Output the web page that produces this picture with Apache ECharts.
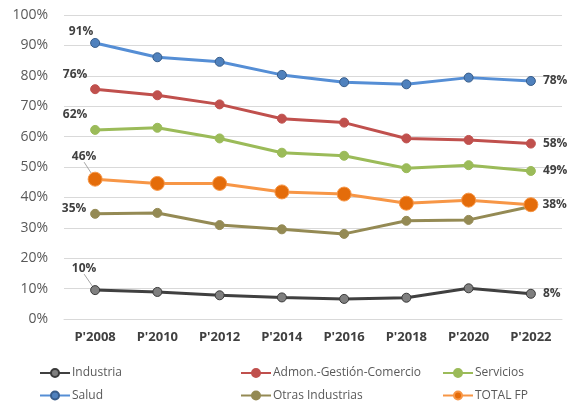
<!DOCTYPE html>
<html>
<head>
<meta charset="utf-8">
<script src="https://cdn.jsdelivr.net/npm/echarts@6/dist/echarts.min.js"></script>
<style>
  html, body { margin: 0; padding: 0; background: #fff; }
  #chart { width: 567px; height: 405px; }
</style>
</head>
<body>
<div id="chart"></div>
<script>
const categories = ["P'2008", "P'2010", "P'2012", "P'2014", "P'2016", "P'2018", "P'2020", "P'2022"];
const industria = [9.5, 8.9, 7.8, 7.1, 6.6, 7.0, 10.1, 8.3];
const admon = [75.6, 73.6, 70.6, 65.9, 64.6, 59.4, 58.9, 57.7];
const servicios = [62.2, 62.9, 59.4, 54.7, 53.7, 49.6, 50.6, 48.7];
const salud = [90.8, 86.1, 84.6, 80.3, 77.9, 77.2, 79.4, 78.3];
const otras = [34.6, 34.9, 30.9, 29.5, 28.0, 32.3, 32.6, 37.0];
const totalFp = [46.0, 44.6, 44.6, 41.8, 41.1, 38.1, 39.1, 37.6];

const font = 'Open Sans';
const labelText = { color: '#404040', fontWeight: 'bold', fontSize: 12, fontFamily: font };

// estilo de cada serie
const seriesDefs = [
  { name: 'Industria', data: industria, line: '#404040', fill: '#7f7f7f', border: '#3a3a3a', size: 9, first: [-11, -22], leader: true, dist: 7 },
  { name: 'Admon.-Gestión-Comercio', data: admon, line: '#c0504d', fill: '#c0504d', border: '#c0504d', size: 9, first: [-20, -15], dist: 7 },
  { name: 'Servicios', data: servicios, line: '#9bbb59', fill: '#9bbb59', border: '#9bbb59', size: 9, first: [-20, -15], dist: 7 },
  { name: 'Salud', data: salud, line: '#558ed5', fill: '#4f81bd', border: '#385d8a', size: 9, first: [-14, -11], dist: 7 },
  { name: 'Otras Industrias', data: otras, line: '#948a54', fill: '#948a54', border: '#948a54', size: 9, first: [-21, -5], dist: 0 },
  { name: 'TOTAL FP', data: totalFp, line: '#f79646', fill: '#e46c0a', border: '#f79646', size: 14, first: [-11, -23], leader: true, dist: 4 }
];

function pct(p) {
  return Math.round(p.value) + '%';
}

const series = seriesDefs.map(function (d) {
  const n = d.data.length;
  return {
    name: d.name,
    type: 'line',
    animation: false,
    symbol: 'circle',
    symbolSize: d.size,
    color: d.fill,
    lineStyle: { color: d.line, width: 3 },
    itemStyle: { color: d.fill, borderColor: d.border, borderWidth: 1 },
    label: { show: false },
    labelLine: {
      show: !!d.leader,
      lineStyle: { color: '#a6a6a6', width: 1 }
    },
    labelLayout: function (params) {
      if (params.dataIndex === 0) {
        return { dx: d.first[0], dy: d.first[1] };
      }
    },
    data: d.data.map(function (v, i) {
      if (i === 0) {
        return { value: v, label: Object.assign({ show: true, position: 'inside', formatter: pct }, labelText) };
      }
      if (i === n - 1 && d.dist) {
        return { value: v, label: Object.assign({ show: true, position: 'right', distance: d.dist, formatter: pct }, labelText), labelLine: { show: false } };
      }
      return v;
    })
  };
});

function legendCol(left, names) {
  return {
    orient: 'vertical',
    left: left,
    top: 367,
    itemWidth: 30,
    itemHeight: 10,
    itemGap: 10.5,
    padding: 0,
    textStyle: { color: '#595959', fontSize: 12, fontFamily: font, padding: [0, 0, 0, -3] },
    data: names
  };
}

const chart = echarts.init(document.getElementById('chart'), null, { renderer: 'canvas' });
chart.setOption({
  backgroundColor: '#ffffff',
  animation: false,
  grid: { left: 64, right: 5, top: 15, bottom: 86, containLabel: false },
  legend: [
    legendCol(39, ['Industria', 'Salud']),
    legendCol(240, ['Admon.-Gestión-Comercio', 'Otras Industrias']),
    legendCol(442, ['Servicios', 'TOTAL FP'])
  ],
  xAxis: {
    type: 'category',
    boundaryGap: true,
    data: categories,
    axisLine: { show: true, lineStyle: { color: '#d9d9d9' } },
    axisTick: { show: false },
    axisLabel: { color: '#404040', fontWeight: 'bold', fontSize: 13, fontFamily: font, margin: 12 }
  },
  yAxis: {
    type: 'value',
    min: 0,
    max: 100,
    interval: 10,
    axisLine: { show: false },
    axisTick: { show: false },
    splitLine: { lineStyle: { color: '#d9d9d9', width: 1 } },
    axisLabel: { color: '#595959', fontSize: 14, fontFamily: font, margin: 16, formatter: '{value}%' }
  },
  series: series
});
</script>
</body>
</html>
